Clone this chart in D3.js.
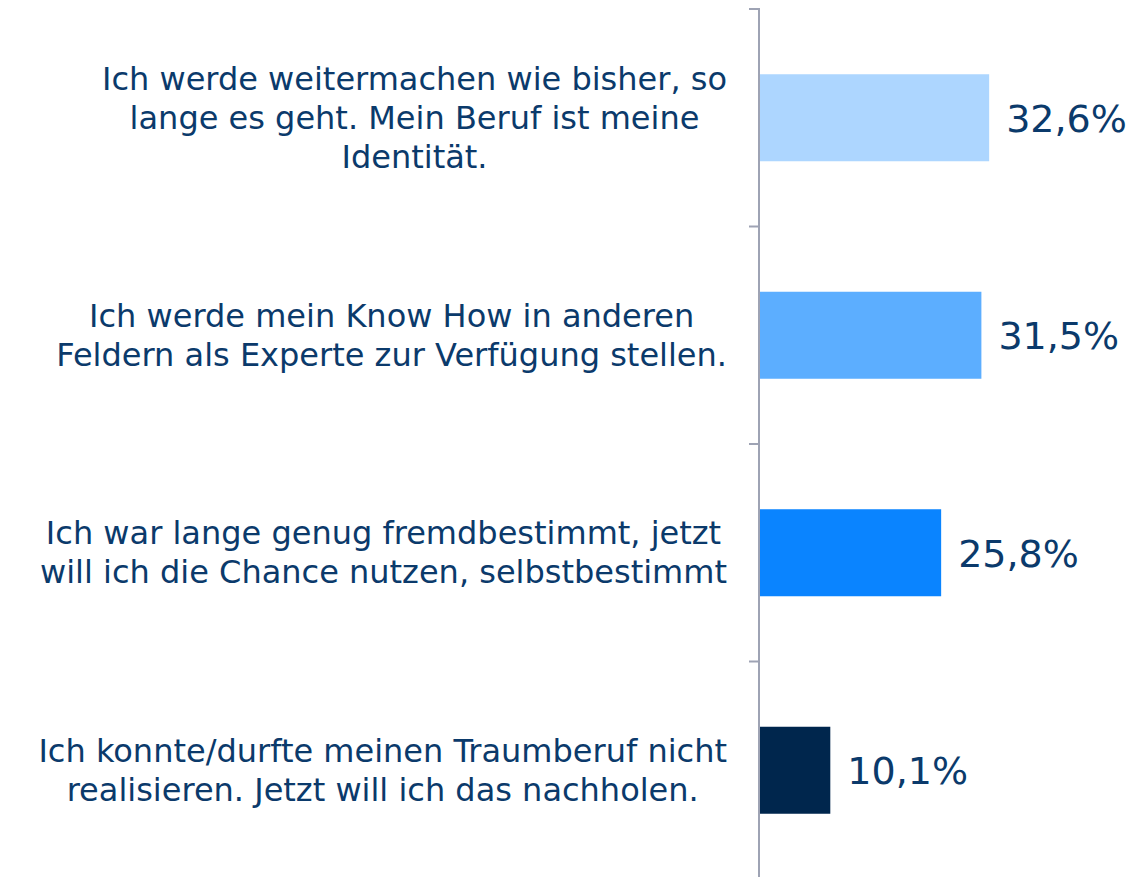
<!DOCTYPE html>
<html>
<head>
<meta charset="utf-8">
<script src="https://cdn.jsdelivr.net/npm/d3@7"></script>
<style>
  body { margin: 0; background: #fff; }
  svg { display: block; }
</style>
</head>
<body>
<svg id="chart" width="1133" height="877"></svg>
<script>
// Werte aus der Grafik
var categories = [
    ["Ich werde weitermachen wie bisher, so", "lange es geht. Mein Beruf ist meine", "Identität."],
    ["Ich werde mein Know How in anderen", "Feldern als Experte zur Verfügung stellen."],
    ["Ich war lange genug fremdbestimmt, jetzt", "will ich die Chance nutzen, selbstbestimmt"],
    ["Ich konnte/durfte meinen Traumberuf nicht", "realisieren. Jetzt will ich das nachholen."]
];
var values = [32.6, 31.5, 25.8, 10.1];
var valueLabels = ["32,6%", "31,5%", "25,8%", "10,1%"];
var barColors = ["#add6ff", "#5caeff", "#0a84ff", "#00264d"];

var textColor = "#0b3a6b";
var svg = d3.select("#chart");

var y = d3.scaleBand().domain(d3.range(categories.length)).range([9, 879])
    .paddingInner(0.6).paddingOuter(0.3);
var x = d3.scaleLinear().domain([0, 50]).range([759, 1112]);

// Achse mit Teilstrichen an den Kategoriegrenzen
var axisColor = "#9ea3b4";
svg.append("line")
    .attr("x1", x(0)).attr("x2", x(0))
    .attr("y1", y.range()[0] - 1).attr("y2", y.range()[1])
    .attr("stroke", axisColor).attr("stroke-width", 2);
var bounds = d3.range(categories.length + 1).map(function (i) { return y.range()[0] + i * y.step(); });
svg.selectAll("line.tick").data(bounds).enter().append("line")
    .attr("class", "tick")
    .attr("x1", x(0) - 10).attr("x2", x(0))
    .attr("y1", function (d) { return d; }).attr("y2", function (d) { return d; })
    .attr("stroke", axisColor).attr("stroke-width", 2);

// Balken
svg.selectAll("rect.bar").data(values).enter().append("rect")
    .attr("class", "bar")
    .attr("x", x(0) + 1)
    .attr("y", function (d, i) { return y(i); })
    .attr("width", function (d) { return x(d) - x(0) - 1; })
    .attr("height", y.bandwidth())
    .attr("fill", function (d, i) { return barColors[i]; });

// Werte
svg.selectAll("text.val").data(values).enter().append("text")
    .attr("class", "val")
    .attr("x", function (d) { return x(d) + 17; })
    .attr("y", function (d, i) { return y(i) + y.bandwidth() / 2 + 14; })
    .attr("fill", textColor)
    .style("font-family", "'DejaVu Sans', Verdana, sans-serif")
    .style("font-size", "38px")
    .text(function (d, i) { return valueLabels[i]; });

// Kategorien: zentrierte Zeilen, Block rechtsbündig
var lineH = 39;
var rightEdge = 727;
categories.forEach(function (lines, i) {
    var g = svg.append("g").attr("class", "label");
    var cy = y(i) + y.bandwidth() / 2;
    var texts = g.selectAll("text").data(lines).enter().append("text")
        .attr("y", function (d, j) { return cy + (j - (lines.length - 1) / 2) * lineH + 11; })
        .attr("text-anchor", "middle")
        .attr("fill", textColor)
        .style("font-family", "'DejaVu Sans', Tahoma, sans-serif")
        .style("font-size", "32px")
        .text(function (d) { return d; });
    var maxW = d3.max(texts.nodes(), function (n) { return n.getComputedTextLength(); });
    texts.attr("x", rightEdge - maxW / 2);
});
</script>
</body>
</html>
